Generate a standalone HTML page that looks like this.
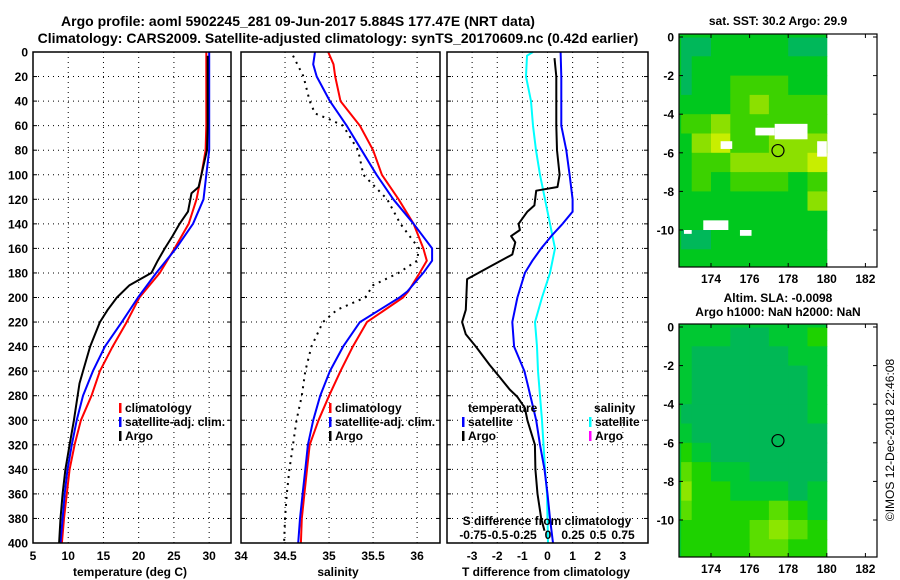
<!DOCTYPE html>
<html><head><meta charset="utf-8"><style>
html,body{margin:0;padding:0;background:#fff}
svg{display:block}
text{font-family:"Liberation Sans",Arial,sans-serif;font-weight:bold;fill:#000}
</style></head><body>
<svg id="fig" width="900" height="580" viewBox="0 0 900 580" xmlns="http://www.w3.org/2000/svg">
<text x="298" y="26" font-size="14" text-anchor="middle">Argo profile: aoml 5902245_281 09-Jun-2017 5.884S 177.47E (NRT data)</text>
<text x="338" y="43" font-size="14" text-anchor="middle">Climatology: CARS2009. Satellite-adjusted climatology: synTS_20170609.nc (0.42d earlier)</text>
<g id="g"></g>
</svg>
<script>
// ---- data: temperature panel ----
const tDepth=[0,20,40,60,80,100,120,140,160,180,200,220,240,260,280,300,320,340,360,380,400];
const tClim=[29.6,29.6,29.6,29.6,29.5,28.9,28.2,27.1,25.1,23.0,20.1,18.3,16.3,14.5,13.3,11.8,10.9,10.2,9.8,9.4,9.1];
const tSat=[30.0,30.0,30.0,30.0,30.0,29.6,29.2,27.7,25.3,22.5,19.9,17.6,15.2,13.5,12.1,11.2,10.5,9.9,9.5,9.2,8.9];
const tArgoDepth=[3,20,40,60,80,100,110,115,130,140,150,160,170,180,190,200,210,220,240,260,270,300,320,340,360,380,400];
const tArgo=[29.8,29.8,29.8,29.8,29.7,28.9,28.5,27.5,27.0,25.8,24.8,23.7,22.7,21.8,18.7,16.9,15.6,14.5,13.1,12.1,11.6,10.8,10.2,9.6,9.2,8.9,8.7];
// ---- data: salinity panel ----
const sDepth=[0,10,20,40,60,80,100,120,140,160,170,180,195,200,220,240,260,280,300,320,340,360,380,400];
const sClim=[34.99,35.05,35.07,35.13,35.35,35.5,35.6,35.79,35.96,36.07,36.11,36.03,35.9,35.84,35.43,35.27,35.13,35.0,34.88,34.78,34.75,34.72,34.69,34.68];
const sSat=[34.84,34.82,34.86,35.01,35.2,35.37,35.54,35.73,35.96,36.17,36.17,36.07,35.89,35.8,35.35,35.16,35.01,34.9,34.82,34.76,34.73,34.7,34.67,34.65];
const sArgoDepth=[3,20,40,50,55,60,80,100,120,140,160,170,180,190,200,210,220,240,260,280,300,320,340,360,380,400];
const sArgo=[34.59,34.71,34.78,34.84,35.01,35.16,35.33,35.39,35.66,35.81,36.02,36.0,35.79,35.5,35.41,35.09,34.93,34.8,34.73,34.69,34.63,34.59,34.55,34.52,34.5,34.49];
// ---- data: difference panel ----
const dArgoDepth=[5,20,40,60,80,100,110,113,125,130,140,145,150,155,165,175,185,210,220,230,240,255,265,275,281,290,300,320,340,360,380,390];
const dArgoT=[0.28,0.35,0.35,0.35,0.38,0.48,0.4,-0.45,-0.52,-0.8,-1.15,-1.1,-1.45,-1.28,-1.4,-2.3,-3.2,-3.25,-3.4,-3.25,-2.85,-2.3,-1.9,-1.5,-1.2,-0.9,-0.8,-0.5,-0.48,-0.4,-0.25,-0.12];
const dSatDepth=[0,20,40,60,80,100,120,130,140,150,160,170,180,200,220,240,260,270,300,320,340,360,380,400];
const dSatT=[0.52,0.55,0.55,0.55,0.75,0.88,1.0,1.0,0.6,0.15,-0.25,-0.6,-0.9,-1.2,-1.4,-1.33,-0.92,-0.8,-0.45,-0.3,-0.12,0,0.1,0.22];
const dSatSDepth=[0,3,20,40,60,80,100,120,140,160,180,200,220,240,260,300,340,360,400];
const dSatS=[-0.15,-0.21,-0.22,-0.17,-0.15,-0.12,-0.08,-0.03,0.02,0.07,0.02,-0.06,-0.13,-0.11,-0.1,-0.06,-0.03,-0.01,0];
// ---- tick labels ----
const depthTicks=[0,20,40,60,80,100,120,140,160,180,200,220,240,260,280,300,320,340,360,380,400];
const tTicks=[5,10,15,20,25,30];
const sTicks=[34,34.5,35,35.5,36];
const dTTicks=[-3,-2,-1,0,1,2,3];
const dSTicks=[-0.75,-0.5,-0.25,0,0.25,0.5,0.75];
const dSLabels=["-0.75","-0.5","-0.25","0","0.25","0.5","0.75"];
const lonTicks=[174,176,178,180,182];
const latTicks=[0,-2,-4,-6,-8,-10];
// ---- map fields (1-degree cells, lon 172..179, lat rows 0..-11) ----
const sstGrid=[
[0,0,1,1,1,1,0,0],[0,1,1,1,1,1,1,1],[0,1,1,2,2,2,1,1],[1,1,1,2,3,2,2,2],
[2,2,3,2,2,2,2,2],[1,3,4,2,2,3,3,3],[1,2,2,3,3,3,3,4],[1,2,1,2,2,2,1,2],
[1,1,1,1,1,1,1,3],[1,1,1,1,1,1,1,1],[0,0,1,1,1,1,1,1],[1,1,1,1,1,1,1,1]];
const slaGrid=[
[1,1,1,0,0,1,1,2],[1,0,0,0,0,0,1,1],[1,0,0,0,0,0,0,1],[1,0,0,0,0,0,0,1],
[0,0,0,0,0,0,0,1],[1,0,0,0,0,0,0,0],[2,1,0,0,0,0,0,0],[3,2,1,1,0,0,0,0],
[4,2,2,1,1,1,0,1],[3,2,2,2,2,3,2,1],[2,2,2,2,3,4,3,2],[2,2,2,2,3,3,2,2]];
const sstColors=["#00b85a","#00c81e","#3cd200","#8ce000","#c8ee00"];
const slaColors=["#00b855","#00c832","#1ed200","#5ade00","#8ce600"];
const sstGaps=[[177.3,-4.5,179,-5.3],[176.3,-4.7,177.3,-5.1],[173.6,-9.5,174.9,-10.0],[174.5,-5.4,175.1,-5.8],[179.5,-5.4,180,-6.2],[172.6,-10.0,173.0,-10.2],[175.5,-10.0,176.1,-10.3]];
const argoLon=177.47, argoLat=-5.884;

const NS="http://www.w3.org/2000/svg";
const G=document.getElementById('g');
function el(tag,attrs,parent){const e=document.createElementNS(NS,tag);for(const k in attrs)e.setAttribute(k,attrs[k]);(parent||G).appendChild(e);return e;}
function txt(s,attrs,parent){const e=el('text',attrs,parent);e.textContent=s;return e;}

const Y0=52,Y1=543;
const yD=d=>Y0+d*(Y1-Y0)/400;
const P1={x0:33,x1:231,min:5,max:33.1};
const P2={x0:241,x1:440,min:34,max:36.26};
const P3={x0:447,x1:648,min:-4,max:4};
const sx=(P,v)=>P.x0+(v-P.min)*(P.x1-P.x0)/(P.max-P.min);
const xS3=v=>548+v*100;

function panel(P,name){
  const g=el('g',{});
  
  
  return g;
}
function hgrid(P,g){depthTicks.forEach((d,i)=>{if(i===0||i===depthTicks.length-1)return;
  const l=el('line',{x1:P.x0,x2:P.x1,y1:yD(d),y2:yD(d),stroke:'#000','stroke-width':1,'stroke-dasharray':'1,4'},g);
  
  el('line',{x1:P.x0,x2:P.x0+4,y1:yD(d),y2:yD(d),stroke:'#000'},g);
  el('line',{x1:P.x1-4,x2:P.x1,y1:yD(d),y2:yD(d),stroke:'#000'},g);});}
function vgrid(P,vals,g){vals.forEach(v=>{const x=sx(P,v);if(x<=P.x0+1||x>=P.x1-1)return;
  const l=el('line',{x1:x,x2:x,y1:Y0,y2:Y1,stroke:'#000','stroke-width':1,'stroke-dasharray':'1,4'},g);
  });}
function line(pts,color,g,name,w,dash){
  const p=el('polyline',{points:pts.map(q=>q[0].toFixed(1)+','+q[1].toFixed(1)).join(' '),fill:'none',stroke:color,'stroke-width':w||2,'stroke-linejoin':'round'},g);
  if(dash)p.setAttribute('stroke-dasharray',dash);
  return p;}
function frame(P,g){const r=el('rect',{x:P.x0,y:Y0,width:P.x1-P.x0,height:Y1-Y0,fill:'none',stroke:'#000','stroke-width':1.5},g);
  }
function legend(x,y,items,g){items.forEach((it,i)=>{
  el('rect',{x:x,y:y+i*14-9,width:2.5,height:10,fill:it[0]},g);
  const t=txt(it[1],{x:x+6,y:y+i*14,'font-size':12},g);
  });}

// Panel 1
const g1=panel(P1,'temperature-panel');
hgrid(P1,g1);vgrid(P1,tTicks,g1);
line(tDepth.map((d,i)=>[sx(P1,tClim[i]),yD(d)]),'#ff0000',g1,'climatology-temperature-line');
line(tDepth.map((d,i)=>[sx(P1,tSat[i]),yD(d)]),'#0000ff',g1,'satellite-temperature-line');
line(tArgoDepth.map((d,i)=>[sx(P1,tArgo[i]),yD(d)]),'#000000',g1,'argo-temperature-line');
frame(P1,g1);
depthTicks.forEach(d=>{const t=txt(String(d),{x:28,y:yD(d)+4.5,'font-size':12,'text-anchor':'end'},g1);});
tTicks.forEach(v=>{const t=txt(String(v),{x:sx(P1,v),y:560,'font-size':12,'text-anchor':'middle'},g1);});
(function(){const t=txt('temperature (deg C)',{x:130,y:576,'font-size':12,'text-anchor':'middle'},g1);})();
legend(119,412,[['#ff0000','climatology'],['#0000ff','satellite-adj. clim.'],['#000','Argo']],g1);

// Panel 2
const g2=panel(P2,'salinity-panel');
hgrid(P2,g2);vgrid(P2,sTicks,g2);
line(sArgoDepth.map((d,i)=>[sx(P2,sArgo[i]),yD(d)]),'#000000',g2,'argo-salinity-line',2,'2,5');
line(sDepth.map((d,i)=>[sx(P2,sClim[i]),yD(d)]),'#ff0000',g2,'climatology-salinity-line');
line(sDepth.map((d,i)=>[sx(P2,sSat[i]),yD(d)]),'#0000ff',g2,'satellite-salinity-line');
frame(P2,g2);
sTicks.forEach(v=>{const t=txt(String(v),{x:sx(P2,v),y:560,'font-size':12,'text-anchor':'middle'},g2);});
(function(){const t=txt('salinity',{x:338,y:576,'font-size':12,'text-anchor':'middle'},g2);})();
legend(329,412,[['#ff0000','climatology'],['#0000ff','satellite-adj. clim.'],['#000','Argo']],g2);

// Panel 3
const g3=panel(P3,'difference-panel');
hgrid(P3,g3);vgrid(P3,dTTicks,g3);
line(dSatSDepth.map((d,i)=>[xS3(dSatS[i]),yD(d)]),'#00ffff',g3,'satellite-salinity-difference-line');
line(dSatDepth.map((d,i)=>[sx(P3,dSatT[i]),yD(d)]),'#0000ff',g3,'satellite-temperature-difference-line');
line(dArgoDepth.map((d,i)=>[sx(P3,dArgoT[i]),yD(d)]),'#000000',g3,'argo-temperature-difference-line');
frame(P3,g3);
(function(){
  let t=txt('temperature',{x:468,y:412,'font-size':12},g3);
  t=txt('salinity',{x:594,y:412,'font-size':12},g3);
  legend(462,426,[['#0000ff','satellite'],['#000','Argo']],g3);
  legend(589,426,[['#00ffff','satellite'],['#ff00ff','Argo']],g3);
  t=txt('S difference from climatology',{x:547,y:525,'font-size':12,'text-anchor':'middle'},g3);
  dSTicks.forEach((v,i)=>{const q=txt(dSLabels[i],{x:xS3(v),y:539,'font-size':12,'text-anchor':'middle'},g3);});
  dTTicks.forEach(v=>{const q=txt(String(v),{x:sx(P3,v),y:560,'font-size':12,'text-anchor':'middle'},g3);});
  t=txt('T difference from climatology',{x:546,y:576,'font-size':12,'text-anchor':'middle'},g3);
})();

// Maps
const MX0=679,MX1=877;
const lonX=l=>711+(l-174)*19.3;
function map(top,grid,colors,gaps,name,titles){
  const g=el('g',{});
  
  const latY=l=>top+3+(-l)*19.3;
  const yb=top+233;
  grid.forEach((row,r)=>row.forEach((v,c)=>{
    const lx0=Math.max(172+c,172.4),lx1=173+c;
    const y0=latY(-r),y1=Math.min(latY(-r-1),yb);
    const cell=el('rect',{x:lonX(lx0),y:y0,width:lonX(lx1)-lonX(lx0)+0.5,height:y1-y0+0.5,fill:colors[v]},g);
    
  }));
  el('rect',{x:MX0,y:top,width:lonX(172.4)-MX0+1,height:233,fill:colors[1]},g);
  el('rect',{x:MX0,y:top,width:lonX(180)-MX0,height:3.5,fill:colors[1]},g);
  gaps.forEach(b=>{el('rect',{x:lonX(b[0]),y:latY(b[1]),width:lonX(b[2])-lonX(b[0]),height:latY(b[3])-latY(b[1]),fill:'#fff'},g);});
  const mk=el('circle',{cx:lonX(argoLon),cy:latY(argoLat),r:6,fill:'none',stroke:'#000','stroke-width':1.2},g);
  
  const fr=el('rect',{x:MX0,y:top,width:MX1-MX0,height:233,fill:'none',stroke:'#000','stroke-width':1.2},g);
  
  lonTicks.forEach(l=>{el('line',{x1:lonX(l),x2:lonX(l),y1:yb,y2:yb-4,stroke:'#000'},g);el('line',{x1:lonX(l),x2:lonX(l),y1:top,y2:top+4,stroke:'#000'},g);
    const t=txt(String(l),{x:lonX(l),y:yb+16,'font-size':12,'text-anchor':'middle'},g);});
  latTicks.forEach(l=>{el('line',{x1:MX0,x2:MX0+4,y1:latY(l),y2:latY(l),stroke:'#000'},g);el('line',{x1:MX1-4,x2:MX1,y1:latY(l),y2:latY(l),stroke:'#000'},g);
    const t=txt(String(l),{x:674,y:latY(l)+4.5,'font-size':12,'text-anchor':'end'},g);});
  titles.forEach((s,i)=>{const t=txt(s,{x:778,y:titles.length===1?top-9:top-22+i*14,'font-size':12,'text-anchor':'middle'},g);});
}
map(34,sstGrid,sstColors,sstGaps,'sst-map',['sat. SST: 30.2 Argo: 29.9']);
map(324,slaGrid,slaColors,[],'sla-map',['Altim. SLA: -0.0098','Argo h1000: NaN h2000: NaN']);
(function(){const t=txt('©IMOS 12-Dec-2018 22:46:08',{x:0,y:0,'font-size':12,'text-anchor':'middle',transform:'translate(894,440) rotate(-90)'});
t.style.fontWeight='normal';})();
</script>
</body></html>
